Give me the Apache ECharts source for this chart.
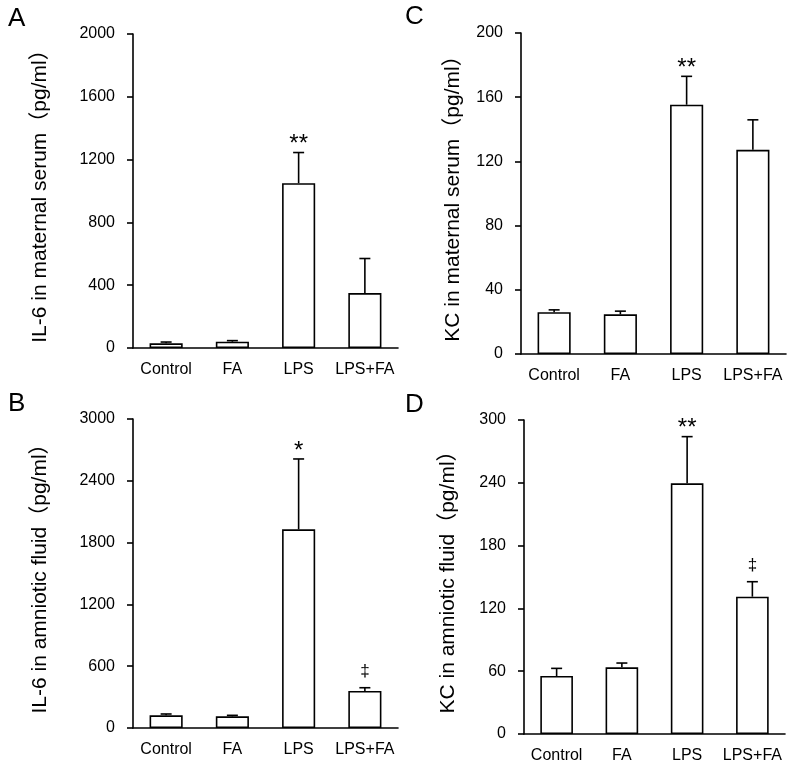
<!DOCTYPE html>
<html>
<head>
<meta charset="utf-8">
<script src="https://cdn.jsdelivr.net/npm/echarts@6/dist/echarts.min.js"></script>
<style>
html,body{margin:0;padding:0;background:#fff;}
#main{width:796px;height:773px;}
</style>
</head>
<body>
<div id="main"></div>
<script>
var categories = ['Control', 'FA', 'LPS', 'LPS+FA'];

// Panel A: IL-6 in maternal serum
var meanA = [30, 40, 1050, 350];
var errA = [8, 7, 195, 220];
var sigA = ['', '', '**', ''];

// Panel C: KC in maternal serum
var meanC = [26, 24.7, 155.3, 127.2];
var errC = [1.5, 2, 17.7, 18.7];
var sigC = ['', '', '**', ''];

// Panel B: IL-6 in amniotic fluid
var meanB = [123, 113, 1929, 359];
var errB = [13, 10, 683, 32];
var sigB = ['', '', '*', '‡'];

// Panel D: KC in amniotic fluid
var meanD = [55.4, 63.7, 239.5, 131.2];
var errD = [7.3, 4.1, 44.6, 14.3];
var sigD = ['', '', '**', '‡'];

var yMaxA = 2000, yIntA = 400;
var yMaxC = 200, yIntC = 40;
var yMaxB = 3000, yIntB = 600;
var yMaxD = 300, yIntD = 60;

var nameA = 'IL-6 in maternal serum（pg/ml）';
var nameC = 'KC in maternal serum（pg/ml）';
var nameB = 'IL-6 in amniotic fluid（pg/ml）';
var nameD = 'KC in amniotic fluid（pg/ml）';

var FONT = "'Liberation Sans', Arial, 'Noto Sans CJK SC', sans-serif";

var grids = [
  {left: 133, top: 34, width: 265, height: 314},
  {left: 521, top: 33, width: 265, height: 321},
  {left: 133, top: 419, width: 265, height: 309},
  {left: 524, top: 420, width: 261, height: 314}
];
var panels = [
  {mean: meanA, err: errA, sig: sigA, max: yMaxA, interval: yIntA, name: nameA, gap: 82},
  {mean: meanC, err: errC, sig: sigC, max: yMaxC, interval: yIntC, name: nameC, gap: 57},
  {mean: meanB, err: errB, sig: sigB, max: yMaxB, interval: yIntB, name: nameB, gap: 82},
  {mean: meanD, err: errD, sig: sigD, max: yMaxD, interval: yIntD, name: nameD, gap: 65}
];

var xAxes = [], yAxes = [], series = [];
panels.forEach(function (p, i) {
  xAxes.push({
    type: 'category', gridIndex: i, data: categories,
    axisLine: {lineStyle: {color: '#000', width: 1.6}},
    axisTick: {length: 6, lineStyle: {color: '#000', width: 1.6}},
    axisLabel: {color: '#000', fontSize: 16, fontFamily: FONT, margin: 14, interval: 0}
  });
  yAxes.push({
    type: 'value', gridIndex: i, min: 0, max: p.max, interval: p.interval,
    name: p.name, nameLocation: 'middle', nameGap: p.gap,
    nameTextStyle: {color: '#000', fontSize: 21, fontFamily: FONT},
    axisLine: {show: true, lineStyle: {color: '#000', width: 1.6}},
    axisTick: {show: true, length: 6, lineStyle: {color: '#000', width: 1.6}},
    axisLabel: {color: '#000', fontSize: 16, fontFamily: FONT, margin: 18,
      formatter: function (v) { return String(v); }},
    splitLine: {show: false}
  });
  series.push({
    type: 'bar', xAxisIndex: i, yAxisIndex: i, data: p.mean, barWidth: '50%',
    itemStyle: {color: '#fff', borderColor: '#000', borderWidth: 1.6},
    silent: true, animation: false
  });
  var errData = p.mean.map(function (m, k) { return [k, m, p.err[k]]; });
  series.push({
    type: 'custom', xAxisIndex: i, yAxisIndex: i, data: errData,
    silent: true, animation: false, z: 5,
    renderItem: (function (sig) {
      return function (params, api) {
        var x = api.value(0), m = api.value(1), e = api.value(2);
        var p0 = api.coord([x, m]);
        var p1 = api.coord([x, m + e]);
        var hw = 5.5;
        var children = [
          {type: 'line', shape: {x1: p0[0], y1: p0[1], x2: p1[0], y2: p1[1]}, style: {stroke: '#000', lineWidth: 1.6}},
          {type: 'line', shape: {x1: p1[0] - hw, y1: p1[1], x2: p1[0] + hw, y2: p1[1]}, style: {stroke: '#000', lineWidth: 1.6}}
        ];
        var s = sig[params.dataIndex];
        if (s) {
          var isDag = s === '‡';
          children.push({
            type: 'text',
            style: {
              text: s, x: p1[0], y: p1[1] - (isDag ? 8 : -4),
              align: 'center', verticalAlign: 'bottom',
              fill: '#000', font: (isDag ? '17px ' : '24px ') + FONT
            }
          });
        }
        return {type: 'group', children: children};
      };
    })(p.sig)
  });
});

var chart = echarts.init(document.getElementById('main'), null, {renderer: 'canvas'});
chart.setOption({
  backgroundColor: '#fff',
  animation: false,
  grid: grids,
  xAxis: xAxes,
  yAxis: yAxes,
  series: series,
  graphic: [
    {type: 'text', left: 8, top: 6, style: {text: 'A', font: '26px ' + FONT, fill: '#000'}},
    {type: 'text', left: 405, top: 4, style: {text: 'C', font: '26px ' + FONT, fill: '#000'}},
    {type: 'text', left: 8, top: 391, style: {text: 'B', font: '26px ' + FONT, fill: '#000'}},
    {type: 'text', left: 405, top: 392, style: {text: 'D', font: '26px ' + FONT, fill: '#000'}}
  ]
});
</script>
</body>
</html>
